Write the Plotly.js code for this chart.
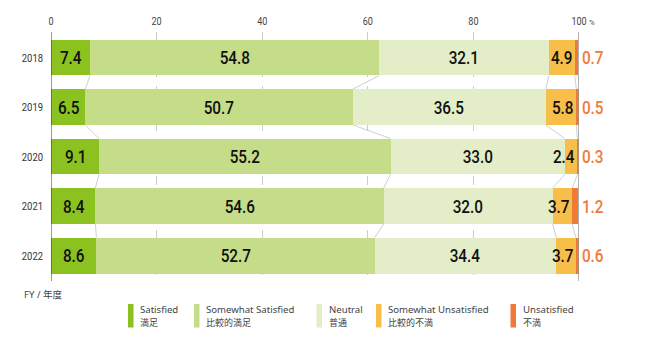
<!DOCTYPE html>
<html>
<head>
<meta charset="utf-8">
<script src="https://cdn.plot.ly/plotly-3.0.1.min.js"></script>
<style>html,body{margin:0;padding:0;background:#fff;}#chart{width:650px;height:358px;}</style>
</head>
<body>
<div id="chart"></div>
<script>
// ---- data ----
const years = ['2018', '2019', '2020', '2021', '2022'];
const satisfied = [7.4, 6.5, 9.1, 8.4, 8.6];
const somewhatSatisfied = [54.8, 50.7, 55.2, 54.6, 52.7];
const neutral = [32.1, 36.5, 33.0, 32.0, 34.4];
const somewhatUnsatisfied = [4.9, 5.8, 2.4, 3.7, 3.7];
const unsatisfied = [0.7, 0.5, 0.3, 1.2, 0.6];
const seriesEn = ['Satisfied', 'Somewhat Satisfied', 'Neutral', 'Somewhat Unsatisfied', 'Unsatisfied'];
const seriesJa = ['満足', '比較的満足', '普通', '比較的不満', '不満'];
const xTickVals = [0, 20, 40, 60, 80, 100];
const xTickText = ['0', '20', '40', '60', '80', '100'];
const axisUnit = '%';
const fyLabel = 'FY / 年度';

// ---- style ----
const colors = ['#8cc21f', '#c5dc89', '#e3eec9', '#f8be4a', '#ef7a35'];
const numFont = 'Roboto, "Noto Sans", sans-serif';
const legFont = '"Noto Sans", "Noto Sans CJK JP", sans-serif';
const cjkFont = '"Noto Sans CJK JP", sans-serif';
const barW = 0.727;
const M = {l: 51, r: 71, t: 32, b: 77};
const PW = 650 - M.l - M.r, PH = 358 - M.t - M.b;
const px = v => (v - M.l) / PW;
const py = v => (358 - M.b - v) / PH;

const series = [satisfied, somewhatSatisfied, neutral, somewhatUnsatisfied, unsatisfied];

const traces = series.map((vals, k) => ({
  type: 'bar', orientation: 'h', y: years, x: vals, name: seriesEn[k],
  width: barW, marker: {color: colors[k], line: {width: 0}},
  hoverinfo: 'skip', showlegend: false
}));

const cum = years.map((_, i) => {
  let c = [0];
  series.forEach(s => c.push(c[c.length - 1] + s[i]));
  return c;
});

const annotations = [];
const shapes = [];
const narrowIdx = new Set();
const valFont = {family: numFont, size: 18, color: '#111', weight: 500};

years.forEach((yr, i) => {
  series.forEach((s, k) => {
    const v = s[i];
    narrowIdx.add(annotations.length);
    if (k <= 2) {
      annotations.push({x: cum[i][k] + v / 2, y: i, xref: 'x', yref: 'y', text: v.toFixed(1),
        showarrow: false, font: valFont});
    } else if (k === 3) {
      annotations.push({x: cum[i][k + 1], y: i, xref: 'x', yref: 'y', text: v.toFixed(1),
        xanchor: 'right', xshift: 1, showarrow: false, font: valFont});
    } else {
      annotations.push({x: 100, y: i, xref: 'x', yref: 'y', text: v.toFixed(1),
        xanchor: 'left', xshift: -1, showarrow: false,
        font: {family: numFont, size: 18, color: '#f07b3a', weight: 500}});
    }
  });
});

for (let i = 0; i < years.length - 1; i++) {
  for (let k = 1; k <= 4; k++) {
    shapes.push({type: 'line', xref: 'x', yref: 'y', layer: 'below',
      x0: cum[i][k], y0: i + barW / 2, x1: cum[i + 1][k], y1: i + 1 - barW / 2,
      line: {color: '#cfcfcf', width: 1}});
  }
}
shapes.push({type: 'line', xref: 'x', yref: 'paper', x0: 0, x1: 0, y0: 0, y1: 1, line: {color: '#333', width: 1}});
shapes.push({type: 'line', xref: 'x', yref: 'paper', x0: 100, x1: 100, y0: 0, y1: 1, line: {color: '#999', width: 1.5}});

annotations.push({x: 100, y: 1, xref: 'x', yref: 'paper', text: axisUnit, showarrow: false,
  xanchor: 'left', yanchor: 'middle', xshift: 8, yshift: 10, font: {family: numFont, size: 8, color: '#555'}});
annotations.push({x: px(23), y: py(294), xref: 'paper', yref: 'paper', text: fyLabel, showarrow: false,
  xanchor: 'left', yanchor: 'middle', borderpad: 0, font: {family: legFont, size: 9.6, color: '#444'}});

const legBarX = [128, 194, 316.5, 376, 510.5];
seriesEn.forEach((name, k) => {
  shapes.push({type: 'rect', xref: 'paper', yref: 'paper', x0: px(legBarX[k]), x1: px(legBarX[k] + 5.5),
    y0: py(327.5), y1: py(304), fillcolor: colors[k], line: {width: 0}});
  annotations.push({x: px(legBarX[k] + 11), y: py(309.5), xref: 'paper', yref: 'paper', text: name,
    showarrow: false, xanchor: 'left', yanchor: 'middle', borderpad: 0,
    font: {family: legFont, size: 9.6, color: '#444'}});
  annotations.push({x: px(legBarX[k] + 11), y: py(322.5), xref: 'paper', yref: 'paper', text: seriesJa[k],
    showarrow: false, xanchor: 'left', yanchor: 'middle', borderpad: 0,
    font: {family: cjkFont, size: 9, color: '#444'}});
});

const layout = {
  width: 650, height: 358, margin: M, barmode: 'stack', bargap: 0,
  paper_bgcolor: '#fff', plot_bgcolor: '#fff', showlegend: false,
  xaxis: {range: [0, 100], side: 'top', tickvals: xTickVals, ticktext: xTickText,
    showgrid: true, gridcolor: '#cccccc', griddash: 'dash', gridwidth: 1,
    zeroline: false, showline: false, ticks: '', ticklabelstandoff: 4,
    tickfont: {family: numFont, size: 11, color: '#444'}, fixedrange: true},
  yaxis: {type: 'category', categoryorder: 'array', categoryarray: years,
    range: [4.515, -0.515], autorange: false, showgrid: false, zeroline: false, showline: false,
    ticks: '', ticklabelstandoff: 7, tickfont: {family: numFont, size: 11.5, color: '#333'}, fixedrange: true},
  shapes: shapes, annotations: annotations
};

Plotly.newPlot('chart', traces, layout, {staticPlot: true, displayModeBar: false}).then(gd => {
  const squeeze = (el, r) => {
    const w = el.getComputedTextLength();
    if (w > 0) {
      el.setAttribute('textLength', (w * r).toFixed(2));
      el.setAttribute('lengthAdjust', 'spacingAndGlyphs');
    }
  };
  gd.querySelectorAll('g.annotation').forEach(g => {
    const idx = +g.getAttribute('data-index');
    if (narrowIdx.has(idx)) {
      const t = g.querySelector('text.annotation-text');
      if (t) squeeze(t, 0.85);
    }
  });
  gd.querySelectorAll('.xtick text, .ytick text').forEach(t => squeeze(t, 0.82));
});
</script>
</body>
</html>
